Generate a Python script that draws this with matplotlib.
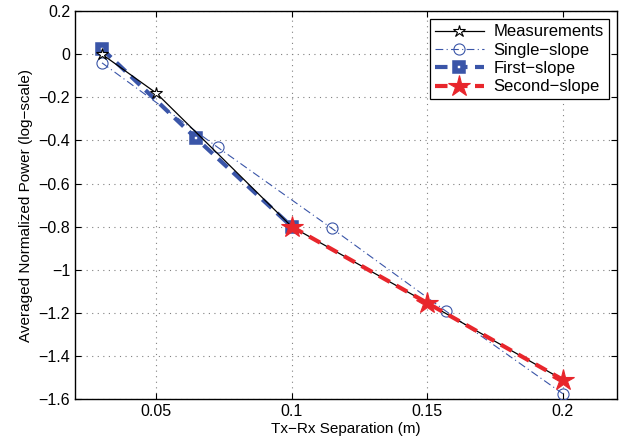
import matplotlib
matplotlib.use("Agg")
import matplotlib.pyplot as plt
from matplotlib.ticker import FixedLocator

plt.rcParams['font.family'] = ['Liberation Sans', 'DejaVu Sans']

meas_x = [0.03, 0.05, 0.10, 0.15, 0.20]
meas_y = [0.0, -0.18, -0.80, -1.154, -1.51]

single_x = [0.03, 0.0727, 0.1147, 0.157, 0.20]
single_y = [-0.04, -0.432, -0.807, -1.193, -1.575]

first_x = [0.03, 0.0647, 0.10]
first_y = [0.025, -0.39, -0.80]

second_x = [0.10, 0.15, 0.20]
second_y = [-0.80, -1.154, -1.51]

xticks = [0.05, 0.1, 0.15, 0.2]
xticklabels = ['0.05', '0.1', '0.15', '0.2']
yticks = [-1.6, -1.4, -1.2, -1.0, -0.8, -0.6, -0.4, -0.2, 0.0, 0.2]
yticklabels = ['\u22121.6', '\u22121.4', '\u22121.2', '\u22121', '\u22120.8', '\u22120.6',
               '\u22120.4', '\u22120.2', '0', '0.2']

blue = '#3a55a8'
red = '#e8262c'

fig = plt.figure(figsize=(6.24, 4.45), dpi=100)
ax = fig.add_axes([0.120, 0.103, 0.869, 0.872])

ax.plot(meas_x, meas_y, color='black', lw=0.9, marker='*', ms=9,
        mfc='white', mec='black', mew=0.8, label='Measurements', zorder=5)
ax.plot(single_x, single_y, color=blue, lw=0.8, ls=(0, (7, 3, 1, 3)), marker='o', ms=8,
        mfc='none', mec=blue, mew=0.8, label='Single\u2212slope', zorder=3)
ax.plot(first_x, first_y, color=blue, lw=3, ls=(0, (3, 1.8)), marker='s', ms=5.5,
        mfc='white', mec=blue, mew=4, label='First\u2212slope', zorder=4)
ax.plot(second_x, second_y, color=red, lw=3, ls=(0, (3, 1.8)), marker='*', ms=16,
        mfc=red, mec=red, mew=0.8, label='Second\u2212slope', zorder=6)

ax.set_xlim(0.02, 0.22)
ax.set_ylim(-1.6, 0.2)
ax.xaxis.set_major_locator(FixedLocator(xticks))
ax.set_xticklabels(xticklabels)
ax.yaxis.set_major_locator(FixedLocator(yticks))
ax.set_yticklabels(yticklabels)

ax.tick_params(direction='in', top=True, right=True, labelsize=11.5, length=4, width=0.8)
ax.grid(True, ls=(0, (1, 4)), color='#808080', lw=0.8)
for s in ax.spines.values():
    s.set_linewidth(1.0)

ax.set_xlabel('Tx\u2212Rx Separation (m)', fontsize=11, labelpad=2)
ax.set_ylabel('Averaged Normalized Power (log\u2212scale)', fontsize=11, labelpad=4)

leg = ax.legend(loc='upper right', fontsize=12, handlelength=2.9, fancybox=False,
                edgecolor='black', framealpha=1, borderaxespad=0.5,
                labelspacing=0.2, borderpad=0.3, handletextpad=0.6)
leg.get_frame().set_linewidth(0.9)

fig.savefig('out.png', dpi=100)
